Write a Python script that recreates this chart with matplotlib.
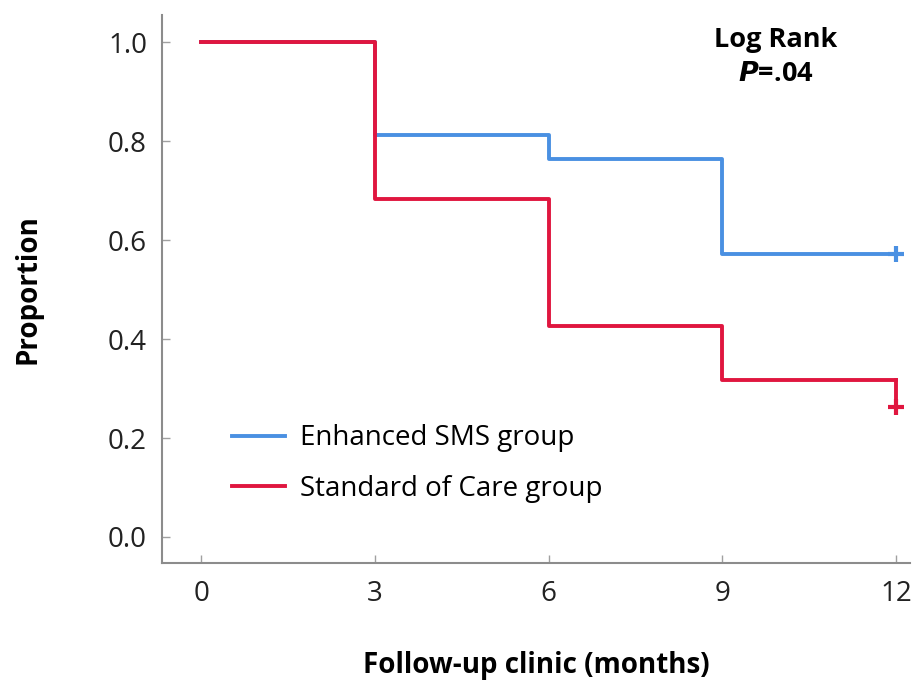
import numpy as np
import matplotlib.pyplot as plt

plt.rcParams['font.family'] = ['Open Sans', 'DejaVu Sans']

# Kaplan-Meier steps
months = [0, 3, 6, 9, 12]
enhanced = [1.0, 0.812, 0.764, 0.572, 0.572]
standard = [1.0, 0.683, 0.426, 0.317, 0.263]
censor_x = [12, 12]
censor_y = [0.572, 0.263]

blue = '#4a90e2'
red = '#e0163f'

fig = plt.figure(figsize=(9.22, 6.86), dpi=100)
ax = fig.add_axes([0.176, 0.179, 0.811, 0.799])

# blue: steps at 3, 6, 9, flat to 12
ax.step(months, enhanced, where='post', color=blue, lw=2.8, label='Enhanced SMS group')
# red: last step drops right at 12
ax.step(months[:-1] + [12], standard[:-1] + [standard[-2]], where='post', color=red, lw=2.8)
ax.plot([12, 12], [standard[-2], standard[-1]], color=red, lw=2.8)
ax.plot([], [], color=red, lw=2.8, label='Standard of Care group')

ax.plot(censor_x[0], censor_y[0], marker='+', ms=11, mew=3, color=blue)
ax.plot(censor_x[1], censor_y[1], marker='+', ms=11, mew=3, color=red)

ax.set_xlim(-0.67, 12.24)
ax.set_ylim(-0.053, 1.055)
ax.set_xticks(months)
ax.set_yticks(np.arange(0, 1.01, 0.2))
ax.set_yticklabels(['%.1f' % v for v in np.arange(0, 1.01, 0.2)])

for s in ['top', 'right']:
    ax.spines[s].set_visible(False)
for s in ['left', 'bottom']:
    ax.spines[s].set_color('#8c8c8c')
    ax.spines[s].set_linewidth(1.5)
ax.tick_params(direction='in', length=6, width=1, color='#a0a0a0',
               labelsize=20, labelcolor='#222222')
ax.tick_params(axis='y', pad=11)
ax.tick_params(axis='x', pad=12)

ax.set_ylabel('Proportion', fontsize=20, fontweight='bold', labelpad=47)
ax.set_xlabel('Follow-up clinic (months)', fontsize=20, fontweight='bold', labelpad=31)

ax.legend(loc='lower left', bbox_to_anchor=(0.06, 0.065), frameon=False,
          fontsize=20, handlelength=1.9, labelspacing=0.8, handletextpad=0.55)

ax.text(0.82, 0.954, 'Log Rank', transform=ax.transAxes, fontsize=19.5,
        fontweight='bold', ha='center', va='center')
ax.text(0.82, 0.892, r'$\mathbfit{P}$=.04', transform=ax.transAxes, fontsize=19.5,
        fontweight='bold', ha='center', va='center')

fig.savefig('out.png', dpi=100)
